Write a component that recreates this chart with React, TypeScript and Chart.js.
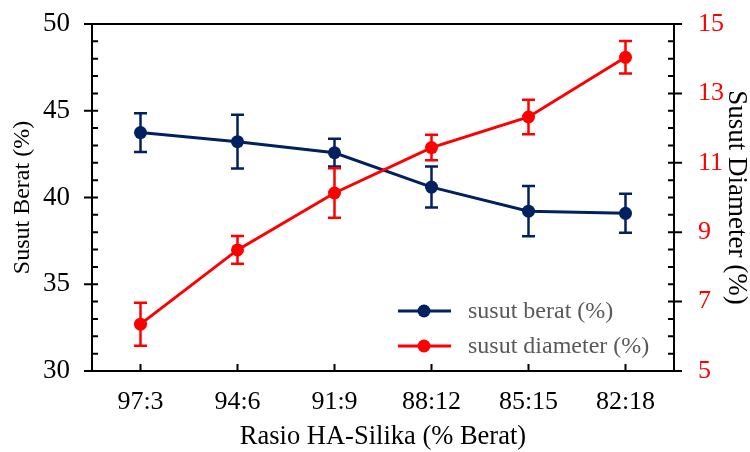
import React, { useEffect, useRef } from "react";
import { Chart, registerables } from "chart.js";

Chart.register(...registerables);

const categories = ["97:3", "94:6", "91:9", "88:12", "85:15", "82:18"];
const susutBerat = [43.74, 43.22, 42.58, 40.6, 39.21, 39.09];
const susutBeratErr = [1.12, 1.55, 0.8, 1.18, 1.45, 1.12];
const susutDiameter = [6.35, 8.49, 10.13, 11.44, 12.32, 14.04];
const susutDiameterErr = [0.62, 0.4, 0.71, 0.37, 0.5, 0.47];

const leftMin = 30, leftMax = 50, leftStep = 5, leftMinor = 1;
const rightMin = 5, rightMax = 15, rightStep = 2, rightMinor = 0.5;

const BLUE = "#002060";
const RED = "#FF0000";
const FONT = "'Liberation Serif', 'Times New Roman', serif";

const errorBarPlugin = {
  id: "errorBars",
  beforeDatasetDraw(chart: any, args: any) {
    const ds = chart.data.datasets[args.index];
    const errs: number[] = ds.errors;
    if (!errs) return;
    const xs = chart.scales.x;
    const ys = chart.scales[ds.yAxisID];
    const ctx = chart.ctx;
    ctx.save();
    ctx.strokeStyle = ds.borderColor;
    ctx.lineWidth = 2.5;
    const cap = 6.5;
    ds.data.forEach((v: number, i: number) => {
      const x = xs.getPixelForValue(i);
      const yt = ys.getPixelForValue(v + errs[i]);
      const yb = ys.getPixelForValue(v - errs[i]);
      ctx.beginPath();
      ctx.moveTo(x, yt);
      ctx.lineTo(x, yb);
      ctx.moveTo(x - cap, yt);
      ctx.lineTo(x + cap, yt);
      ctx.moveTo(x - cap, yb);
      ctx.lineTo(x + cap, yb);
      ctx.stroke();
    });
    ctx.restore();
  },
};

const framePlugin = {
  id: "frame",
  afterDraw(chart: any) {
    const { ctx, chartArea: a, scales } = chart;
    ctx.save();
    ctx.strokeStyle = "#000";
    ctx.lineWidth = 2;
    ctx.strokeRect(a.left, a.top, a.right - a.left, a.bottom - a.top);
    ctx.beginPath();
    for (let v = leftMin; v <= leftMax + 1e-9; v += leftMinor) {
      const y = scales.y.getPixelForValue(v);
      const major = Math.abs(v / leftStep - Math.round(v / leftStep)) < 1e-6;
      ctx.moveTo(major ? a.left - 8 : a.left, y);
      ctx.lineTo(a.left + 6, y);
    }
    for (let v = rightMin; v <= rightMax + 1e-9; v += rightMinor) {
      const y = scales.y1.getPixelForValue(v);
      const k = (v - rightMin) / rightStep;
      const major = Math.abs(k - Math.round(k)) < 1e-6;
      ctx.moveTo(a.right - 6, y);
      ctx.lineTo(major ? a.right + 8 : a.right, y);
    }
    categories.forEach((_, i) => {
      const x = scales.x.getPixelForValue(i);
      ctx.moveTo(x, a.bottom);
      ctx.lineTo(x, a.bottom - 7);
    });
    ctx.stroke();

    const lx = a.right - 276;
    const rows = [
      { label: "susut berat (%)", color: BLUE, y: a.bottom - 60 },
      { label: "susut diameter (%)", color: RED, y: a.bottom - 25 },
    ];
    ctx.font = `24px ${FONT}`;
    ctx.textBaseline = "middle";
    ctx.textAlign = "left";
    rows.forEach((r) => {
      ctx.strokeStyle = r.color;
      ctx.lineWidth = 3;
      ctx.beginPath();
      ctx.moveTo(lx, r.y);
      ctx.lineTo(lx + 53, r.y);
      ctx.stroke();
      ctx.fillStyle = r.color;
      ctx.beginPath();
      ctx.arc(lx + 26, r.y, 6.5, 0, Math.PI * 2);
      ctx.fill();
      ctx.fillStyle = "#595959";
      ctx.fillText(r.label, lx + 70, r.y + 1);
    });
    ctx.restore();
  },
};

export default function App() {
  const ref = useRef<HTMLCanvasElement>(null);
  useEffect(() => {
    if (!ref.current) return;
    const chart = new Chart(ref.current, {
      type: "line",
      data: {
        labels: categories,
        datasets: [
          {
            label: "susut berat (%)",
            data: susutBerat,
            errors: susutBeratErr,
            yAxisID: "y",
            borderColor: BLUE,
            backgroundColor: BLUE,
            pointBackgroundColor: BLUE,
            pointBorderColor: BLUE,
            pointRadius: 6.5,
            pointBorderWidth: 0,
            borderWidth: 3,
            order: 1,
          } as any,
          {
            label: "susut diameter (%)",
            data: susutDiameter,
            errors: susutDiameterErr,
            yAxisID: "y1",
            borderColor: RED,
            backgroundColor: RED,
            pointBackgroundColor: RED,
            pointBorderColor: RED,
            pointRadius: 6.5,
            pointBorderWidth: 0,
            borderWidth: 3,
            order: 0,
          } as any,
        ],
      },
      options: {
        responsive: false,
        animation: false,
        devicePixelRatio: 1,
        layout: { padding: { top: 24, left: 0, right: 0, bottom: 0 } },
        plugins: { legend: { display: false }, tooltip: { enabled: false } },
        scales: {
          x: {
            type: "category",
            offset: true,
            grid: { display: false, drawTicks: false },
            border: { display: false },
            ticks: { font: { family: FONT, size: 26 }, color: "#000", padding: 16, maxRotation: 0 },
            title: {
              display: true,
              text: "Rasio HA-Silika (% Berat)",
              font: { family: FONT, size: 26.5, lineHeight: 1 },
              color: "#000",
              padding: { top: 0, bottom: 2 },
            },
            afterFit: (s: any) => { s.height = 81; s.paddingLeft = 0; s.paddingRight = 0; },
          },
          y: {
            type: "linear",
            position: "left",
            min: leftMin,
            max: leftMax,
            grid: { display: false, drawTicks: false },
            border: { display: false },
            ticks: { stepSize: leftStep, font: { family: FONT, size: 27 }, color: "#000", padding: 22 },
            title: {
              display: true,
              text: "Susut Berat (%)",
              font: { family: FONT, size: 24, lineHeight: 1 },
              color: "#000",
              padding: { top: 11, bottom: 0 },
            },
            afterFit: (s: any) => { s.width = 92; s.paddingTop = 0; s.paddingBottom = 0; },
          },
          y1: {
            type: "linear",
            position: "right",
            min: rightMin,
            max: rightMax,
            grid: { display: false, drawTicks: false },
            border: { display: false },
            ticks: { stepSize: rightStep, font: { family: FONT, size: 26 }, color: RED, padding: 24 },
            title: {
              display: true,
              text: "Susut Diameter (%)",
              font: { family: FONT, size: 27, lineHeight: 1 },
              color: "#000",
              padding: { top: 0, bottom: 0 },
            },
            afterFit: (s: any) => { s.width = 76; s.paddingTop = 0; s.paddingBottom = 0; },
          },
        },
      },
      plugins: [errorBarPlugin, framePlugin],
    } as any);
    return () => chart.destroy();
  }, []);
  return (
    <div style={{ position: "absolute", left: 0, top: 0, width: 750, height: 452 }}>
      <canvas ref={ref} width={750} height={452} />
    </div>
  );
}
